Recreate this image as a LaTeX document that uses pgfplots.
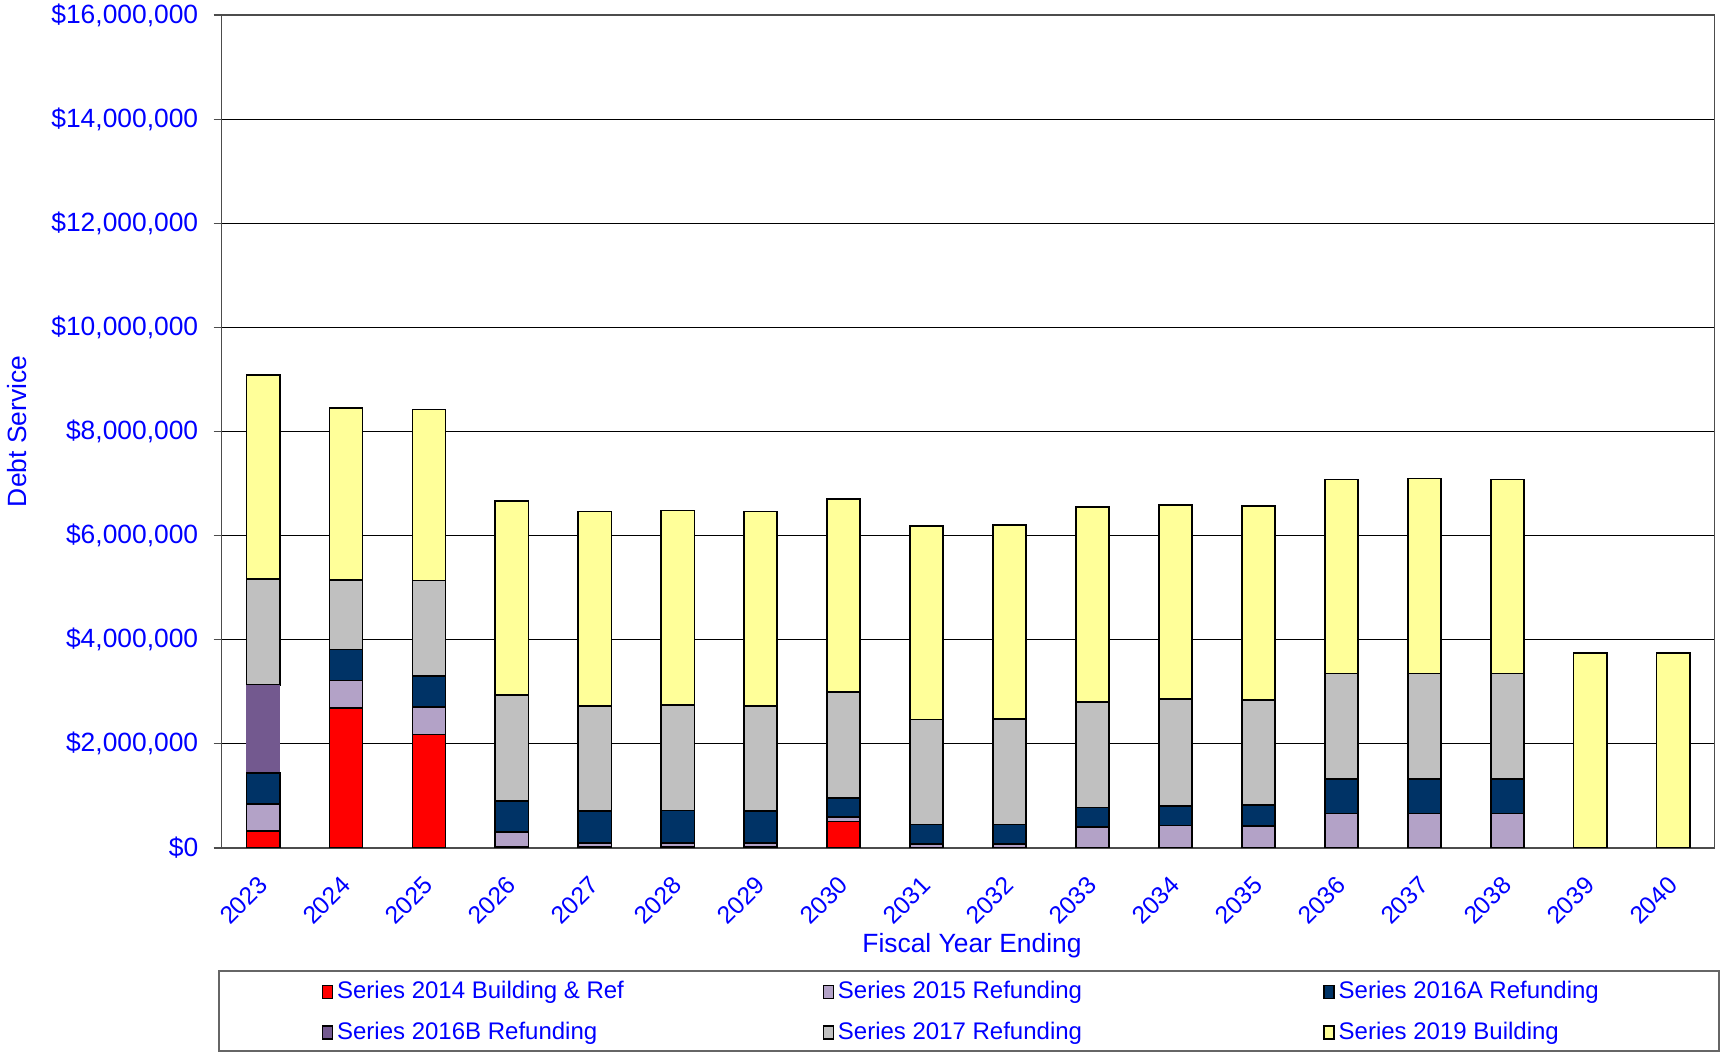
\documentclass[border=0pt]{standalone}
\usepackage{pgfplots}
\pgfplotsset{compat=1.18}
\usepackage{fontspec}
\setmainfont{Liberation Sans}
\definecolor{txtblue}{RGB}{0,0,255}
\definecolor{cred}{RGB}{255,0,0}
\definecolor{clilac}{RGB}{179,162,199}
\definecolor{cnavy}{RGB}{0,51,102}
\definecolor{cpurple}{RGB}{115,89,143}
\definecolor{cgray}{RGB}{192,192,192}
\definecolor{cyellow}{RGB}{255,255,153}
\begin{document}
\begin{tikzpicture}
\path[use as bounding box] (-110.8pt,-102.5pt) rectangle (749.2pt,424pt);
\begin{axis}[
  at={(0,0)}, anchor=south west,
  scale only axis, width=746.5pt, height=416.5pt,
  xmin=-0.5, xmax=17.5, ymin=0, ymax=16,
  ybar stacked, bar width=0.4,
  axis line style={black!70, line width=0.8pt},
  tick align=outside, major tick length=4pt, minor tick length=4pt,
  tick style={black!70, line width=0.6pt},
  xtick={0,...,17},
  xticklabels={2023,2024,2025,2026,2027,2028,2029,2030,2031,2032,2033,2034,2035,2036,2037,2038,2039,2040},
  xtick style={draw=none},
  minor xtick={-0.5,0.5,...,17.5},
  xticklabel style={rotate=45, anchor=east, inner sep=0pt, font=\fontsize{12.3}{15}\selectfont, text=txtblue, xshift=0pt},
  xticklabel shift=12.5pt,
  ytick={0,2,...,16},
  yticklabels={{\$0},{\$2,000,000},{\$4,000,000},{\$6,000,000},{\$8,000,000},{\$10,000,000},{\$12,000,000},{\$14,000,000},{\$16,000,000}},
  ytick pos=left, xtick pos=bottom,
  yticklabel style={anchor=east, inner sep=0pt, font=\fontsize{13.2}{15}\selectfont, text=txtblue},
  yticklabel shift=7.5pt,
  ymajorgrids, major grid style={black, line width=0.6pt},
  xlabel={Fiscal Year Ending}, ylabel={Debt Service},
  every axis x label/.style={at={(axis description cs:0.5026,-0.1172)}, anchor=center, font=\fontsize{13.2}{15}\selectfont, text=txtblue},
  every axis y label/.style={at={(axis description cs:-0.1373,0.5)}, rotate=90, anchor=center, font=\fontsize{13.2}{15}\selectfont, text=txtblue},
  legend columns=3,
  legend style={at={(axis description cs:0.0668,-0.1597)}, anchor=north west, draw=none, fill=none, inner sep=0pt,
    font=\fontsize{12}{14}\selectfont, text=txtblue, row sep=10pt,
    nodes={inner sep=0pt}},
  legend image code/.code={\draw[#1, line width=0.7pt] (0.5pt,-3.5pt) rectangle (5.5pt,3.0pt);},
  every axis plot/.append style={line width=0.85pt},
]
\addplot[fill=cred, draw=black] coordinates {(0,0.32) (1,2.69) (2,2.18) (3,0.03) (4,0.03) (5,0.03) (6,0.03) (7,0.51) (8,0) (9,0) (10,0) (11,0) (12,0) (13,0) (14,0) (15,0) (16,0) (17,0)};
\addlegendentry{\makebox[244.7pt][l]{\,Series 2014 Building \& Ref}}
\addplot[fill=clilac, draw=black] coordinates {(0,0.525) (1,0.53) (2,0.53) (3,0.28) (4,0.07) (5,0.07) (6,0.07) (7,0.08) (8,0.08) (9,0.08) (10,0.40) (11,0.43) (12,0.42) (13,0.66) (14,0.66) (15,0.66) (16,0) (17,0)};
\addlegendentry{\makebox[244.7pt][l]{\,Series 2015 Refunding}}
\addplot[fill=cnavy, draw=black] coordinates {(0,0.595) (1,0.59) (2,0.60) (3,0.59) (4,0.605) (5,0.62) (6,0.605) (7,0.37) (8,0.37) (9,0.37) (10,0.38) (11,0.38) (12,0.40) (13,0.67) (14,0.67) (15,0.67) (16,0) (17,0)};
\addlegendentry{\makebox[140pt][l]{\,Series 2016A Refunding}}
\addplot[fill=cpurple, draw=none] coordinates {(0,1.685) (1,0) (2,0) (3,0) (4,0) (5,0) (6,0) (7,0) (8,0) (9,0) (10,0) (11,0) (12,0) (13,0) (14,0) (15,0) (16,0) (17,0)};
\addlegendentry{\makebox[244.7pt][l]{\,Series 2016B Refunding}}
\addplot[fill=cgray, draw=black] coordinates {(0,2.035) (1,1.34) (2,1.83) (3,2.04) (4,2.025) (5,2.02) (6,2.025) (7,2.03) (8,2.02) (9,2.03) (10,2.03) (11,2.05) (12,2.02) (13,2.02) (14,2.02) (15,2.02) (16,0) (17,0)};
\addlegendentry{\makebox[244.7pt][l]{\,Series 2017 Refunding}}
\addplot[fill=cyellow, draw=black] coordinates {(0,3.92) (1,3.295) (2,3.28) (3,3.72) (4,3.735) (5,3.745) (6,3.735) (7,3.71) (8,3.72) (9,3.73) (10,3.74) (11,3.73) (12,3.73) (13,3.725) (14,3.745) (15,3.73) (16,3.75) (17,3.75)};
\addlegendentry{\makebox[140pt][l]{\,Series 2019 Building}}
\end{axis}
\draw[black!60, line width=0.8pt] (-1.3pt,-61.5pt) rectangle (748.7pt,-101.5pt);
\end{tikzpicture}
\end{document}
